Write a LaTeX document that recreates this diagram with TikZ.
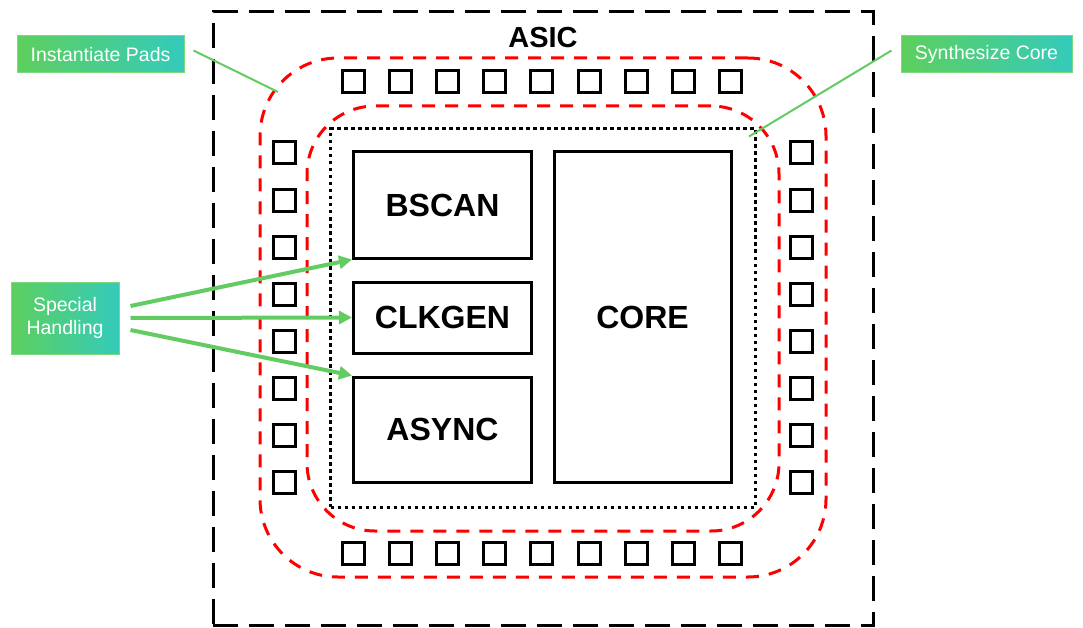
\documentclass[tikz,border=0pt]{standalone}
\usepackage{fontspec}
\setmainfont{Liberation Sans}
\usetikzlibrary{arrows.meta,calc}
\definecolor{gl}{HTML}{5DCF5D}
\definecolor{gr}{HTML}{34CBBB}
\definecolor{gline}{HTML}{62CC62}
\definecolor{rd}{HTML}{FF0000}
\tikzset{
  blk/.style={draw=black, line width=3pt, font=\fontsize{32}{38}\selectfont\bfseries, inner sep=0pt},
  pad/.style={draw=black, line width=3pt, minimum size=22pt, inner sep=0pt},
  lbl/.style={draw=gl!80!white, line width=1pt, left color=gl, right color=gr, text=white, font=\fontsize{19.5}{23}\selectfont, inner sep=0pt, align=center},
  reddash/.style={draw=rd, line width=3pt, dash pattern=on 13pt off 10pt},
  glink/.style={draw=gline, line width=2pt},
  garrow/.style={draw=gline, line width=4pt, -{Triangle[length=13pt,width=13pt]}},
}
\begin{document}
\begin{tikzpicture}[x=1pt,y=-1pt]
\useasboundingbox (0,0) rectangle (1083,628);
% outer ASIC frame
\node[draw=black, line width=3pt, dash pattern=on 25pt off 11pt, minimum width=660pt, minimum height=613pt, inner sep=0pt] (asic) at (543,318.5) {};
\node[font=\fontsize{29}{34}\selectfont\bfseries] (asiclbl) at (543,38) {ASIC};
% red rounded frames
\node[reddash, rounded corners=78pt, minimum width=566pt, minimum height=519pt, inner sep=0pt] (padring) at (543,317.5) {};
\node[reddash, rounded corners=68pt, minimum width=472pt, minimum height=425pt, inner sep=0pt] (corering) at (543,318.5) {};
% dotted core region
\node[draw=black, line width=3pt, dash pattern=on 3.5pt off 3.5pt, minimum width=425pt, minimum height=378pt, inner sep=0pt] (dot) at (543,318) {};
% blocks
\node[blk, minimum width=178pt, minimum height=106pt] (bscan) at (442.5,205) {BSCAN};
\node[blk, minimum width=178pt, minimum height=71pt] (clkgen) at (442.5,317.5) {CLKGEN};
\node[blk, minimum width=178pt, minimum height=105pt] (async) at (442.5,429.5) {ASYNC};
\node[blk, minimum width=177pt, minimum height=330pt] (core) at (642.5,317) {CORE};
% pads
\foreach \i in {0,...,8} {
  \node[pad] (pt\i) at ({353.5+47.1*\i},82) {};
  \node[pad] (pb\i) at ({353.5+47.1*\i},553.5) {};
}
\foreach \i in {0,...,7} {
  \node[pad] (pl\i) at (284.5,{153+47.1*\i}) {};
  \node[pad] (pr\i) at (801.5,{153+47.1*\i}) {};
}
% labels
\node[lbl, minimum width=167pt, minimum height=37pt] (ip) at (100.5,54.5) {Instantiate Pads};
\node[lbl, minimum width=171pt, minimum height=37pt] (sc) at (986.5,54.5) {Synthesize Core};
\node[lbl, minimum width=108pt, minimum height=72pt] (sh) at (65,318) {\raisebox{-3pt}{Special}\\\raisebox{-3pt}{Handling}};
% leader lines
\coordinate (ipend) at (278,92);
\coordinate (scend) at ([shift={(-8,9)}]dot.north east);
\draw[glink] ([shift={(9,-4)}]ip.east) -- (ipend);
\draw[glink] ([shift={(-9,-4)}]sc.west) -- (scend);
% special handling arrows
\draw[garrow] ([shift={(11,-12)}]sh.east) -- (bscan.south west);
\draw[garrow] ([shift={(11,0)}]sh.east) -- (clkgen.west);
\draw[garrow] ([shift={(11,12)}]sh.east) -- (async.north west);
\end{tikzpicture}
\end{document}
